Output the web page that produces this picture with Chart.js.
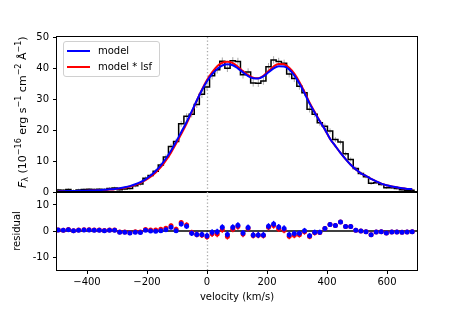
<!DOCTYPE html>
<html>
<head>
<meta charset="utf-8">
<script src="https://cdn.jsdelivr.net/npm/chart.js@4.4.0/dist/chart.umd.min.js"></script>
<style>
body{margin:0;background:#fff;font-family:"DejaVu Sans",sans-serif;}
#wrap{position:relative;width:463px;height:309px;overflow:hidden;background:#fff;}
#topChart{position:absolute;left:0;top:0;}
#resChart{position:absolute;left:0;top:190px;}
#ylab{position:absolute;left:0;top:0;width:150px;height:12px;line-height:12px;text-align:center;transform-origin:0 0;transform:translate(17px,188px) rotate(-90deg);white-space:nowrap;font-size:11px;color:#000;}
#ylab sup{font-size:8px;vertical-align:5px;line-height:0;}
#ylab sub{font-size:8px;vertical-align:-2px;line-height:0;}
#legend{position:absolute;left:63px;top:41px;width:95px;height:34px;border:1px solid #d0d0d0;border-radius:3px;background:rgba(255,255,255,0.8);font-size:10px;color:#000;}
.row{position:absolute;left:0;height:12px;line-height:12px;}
.swatch{position:absolute;left:3px;top:5px;width:23px;height:2px;}
.txt{position:absolute;left:34px;top:0;white-space:nowrap;}
</style>
</head>
<body>
<div id="wrap">
  <canvas id="topChart" width="463" height="200"></canvas>
  <canvas id="resChart" width="463" height="119"></canvas>
  <div id="ylab"><i>F</i><sub>λ</sub> (10<sup>−16</sup> erg s<sup>−1</sup> cm<sup>−2</sup> Å<sup>−1</sup>)</div>
  <div id="legend">
    <div class="row" style="top:3px;width:95px"><div class="swatch" style="background:#0000ff"></div><div class="txt">model</div></div>
    <div class="row" style="top:19px;width:95px"><div class="swatch" style="background:#ff0000"></div><div class="txt">model * lsf</div></div>
  </div>
</div>
<script>
// bin centres (km/s)
const velocity = [-496, -479, -462, -445, -428, -410, -393, -376, -359, -342,
    -325, -308, -291, -274, -257, -239, -222, -205, -188, -171,
    -154, -137, -120, -103, -86, -68, -51, -34, -17, 0,
    17, 34, 51, 68, 86, 103, 120, 137, 154, 171,
    188, 205, 222, 239, 257, 274, 291, 308, 325, 342,
    359, 376, 393, 410, 428, 445, 462, 479, 496, 513,
    530, 547, 564, 581, 598, 616, 633, 650, 667, 684];

// observed flux
const fluxData = [0.65, 0.57, 0.8, 0.43, 0.67, 0.8, 0.85, 0.8, 0.9, 0.8,
    1.15, 1.3, 0.7, 1.0, 1.1, 2.0, 2.6, 4.4, 5.3, 6.7,
    8.7, 11.3, 14.7, 16.3, 22.0, 24.4, 25.1, 28.2, 31.5, 33.9,
    37.5, 39.4, 42.2, 39.9, 42.3, 42.1, 37.8, 38.7, 35.2, 35.1,
    35.8, 40.4, 42.6, 42.1, 41.5, 38.1, 36.6, 34.1, 32.0, 26.7,
    25.1, 22.3, 21.2, 19.7, 16.9, 16.1, 12.3, 10.5, 7.6, 6.0,
    4.9, 2.8, 3.0, 2.4, 1.4, 1.4, 1.1, 0.7, 0.6, 0.6];

const fluxErr = [0.4, 0.4, 0.4, 0.4, 0.4, 0.4, 0.4, 0.4, 0.4, 0.4,
    0.4, 0.4, 0.45, 0.45, 0.5, 0.5, 0.55, 0.6, 0.65, 0.7,
    0.75, 0.8, 0.85, 0.9, 0.95, 1.0, 1.05, 1.1, 1.15, 1.2,
    1.2, 1.2, 1.2, 1.2, 1.2, 1.2, 1.2, 1.2, 1.2, 1.2,
    1.2, 1.2, 1.2, 1.2, 1.2, 1.15, 1.15, 1.1, 1.1, 1.05,
    1.0, 0.95, 0.9, 0.85, 0.8, 0.75, 0.7, 0.65, 0.6, 0.55,
    0.5, 0.5, 0.45, 0.45, 0.4, 0.4, 0.4, 0.4, 0.4, 0.4];

const model = [0.25, 0.27, 0.3, 0.33, 0.37, 0.4, 0.45, 0.5, 0.6, 0.7,
    0.85, 1.0, 1.2, 1.5, 1.9, 2.5, 3.2, 4.1, 5.3, 6.8,
    8.6, 10.8, 13.3, 16.2, 19.3, 22.6, 26.0, 29.5, 32.8, 35.7,
    38.0, 39.7, 40.8, 41.2, 40.9, 39.9, 38.6, 37.4, 36.7, 36.6,
    37.3, 38.6, 39.9, 40.6, 40.5, 39.5, 37.6, 35.0, 31.9, 28.5,
    25.6, 22.8, 20.2, 17.2, 14.8, 12.6, 10.6, 8.8, 7.3, 6.0,
    5.2, 4.2, 3.4, 2.7, 2.2, 1.8, 1.5, 1.2, 1.0, 0.9];

const modelLsf = [0.22, 0.24, 0.27, 0.3, 0.33, 0.36, 0.41, 0.46, 0.55, 0.64,
    0.78, 0.92, 1.1, 1.38, 1.75, 2.3, 2.95, 3.8, 4.9, 6.3,
    8.0, 10.2, 12.7, 15.6, 18.7, 22.1, 25.7, 29.5, 33.0, 36.1,
    38.6, 40.6, 41.7, 42.0, 41.6, 40.4, 39.0, 37.7, 36.9, 36.7,
    37.5, 39.0, 40.5, 41.3, 41.2, 40.1, 38.2, 35.5, 32.3, 28.8,
    25.8, 22.9, 20.2, 17.2, 14.8, 12.6, 10.6, 8.8, 7.3, 6.0,
    5.2, 4.2, 3.4, 2.7, 2.2, 1.8, 1.5, 1.2, 1.0, 0.9];

const fluxTicks = [0, 10, 20, 30, 40, 50];
const residTicks = [-10, 0, 10];
const velTicks = [-400, -200, 0, 200, 400, 600];

const residModel = fluxData.map((f, i) => f - model[i]);
const residLsf = fluxData.map((f, i) => f - modelLsf[i]);

function pts(ys) {
    return velocity.map((v, i) => ({x: v, y: ys[i]}));
}

const FONT = {family: 'DejaVu Sans', size: 10};

// cadre matplotlib
const frame = {
    id: 'frame',
    afterDraw(chart) {
        const {ctx, chartArea: a} = chart;
        ctx.save();
        ctx.strokeStyle = '#000';
        ctx.lineWidth = 1;
        ctx.strokeRect(Math.round(a.left) - 0.5, Math.round(a.top) - 0.5,
            Math.round(a.right - a.left) + 1, Math.round(a.bottom - a.top) + 1);
        ctx.restore();
    }
};

// lignes de reference (v=0 pointillee, residu=0)
const refLines = {
    id: 'refLines',
    beforeDatasetsDraw(chart, args, opts) {
        const {ctx, chartArea: a, scales} = chart;
        ctx.save();
        ctx.beginPath();
        ctx.rect(a.left, a.top, a.right - a.left, a.bottom - a.top);
        ctx.clip();
        const x0 = Math.round(scales.x.getPixelForValue(0)) + 0.5;
        ctx.strokeStyle = '#a8a8a8';
        ctx.lineWidth = 1.3;
        ctx.setLineDash([1.3, 2.2]);
        ctx.beginPath();
        ctx.moveTo(x0, a.top);
        ctx.lineTo(x0, a.bottom);
        ctx.stroke();
        if (opts.zero) {
            ctx.setLineDash([]);
            ctx.strokeStyle = '#000';
            ctx.lineWidth = 1.5;
            const y0 = scales.y.getPixelForValue(0);
            ctx.beginPath();
            ctx.moveTo(a.left, y0);
            ctx.lineTo(a.right, y0);
            ctx.stroke();
        }
        ctx.restore();
    }
};

// barres d'erreur
const errBars = {
    id: 'errBars',
    beforeDatasetDraw(chart, args) {
        const ds = chart.data.datasets[args.index];
        if (!ds.errs) return;
        const {ctx, chartArea: a, scales} = chart;
        ctx.save();
        ctx.beginPath();
        ctx.rect(a.left, a.top, a.right - a.left, a.bottom - a.top);
        ctx.clip();
        ctx.strokeStyle = ds.errs.color;
        ctx.lineWidth = ds.errs.width;
        ds.errs.y.forEach((y, i) => {
            const px = scales.x.getPixelForValue(velocity[i]);
            ctx.beginPath();
            ctx.moveTo(px, scales.y.getPixelForValue(y - fluxErr[i]));
            ctx.lineTo(px, scales.y.getPixelForValue(y + fluxErr[i]));
            ctx.stroke();
        });
        ctx.restore();
    }
};

function yAxis(min, max, ticks, extra) {
    return Object.assign({
        min: min, max: max,
        afterBuildTicks: s => { s.ticks = ticks.map(v => ({value: v})); },
        afterFit: s => { s.width = 57; s.paddingTop = 0; s.paddingBottom = 0; },
        grid: {drawOnChartArea: false, drawTicks: true, tickLength: 4, tickColor: '#000'},
        border: {display: false},
        ticks: {color: '#000', font: FONT, padding: 4}
    }, extra || {});
}

// panneau du haut : spectre
const histPts = pts(fluxData);
histPts.unshift({x: velocity[0] - 8.5, y: fluxData[0]});
histPts.push({x: velocity[velocity.length - 1] + 8.5, y: fluxData[fluxData.length - 1]});

new Chart(document.getElementById('topChart'), {
    type: 'line',
    data: {
        datasets: [
            {label: 'model', data: pts(model), borderColor: '#0000ff', borderWidth: 2,
             pointRadius: 0, cubicInterpolationMode: 'monotone', order: 0},
            {label: 'model * lsf', data: pts(modelLsf), borderColor: '#ff0000', borderWidth: 2,
             pointRadius: 0, cubicInterpolationMode: 'monotone', order: 1},
            {label: 'data', data: histPts, borderColor: '#000', borderWidth: 1.5,
             pointRadius: 0, stepped: 'middle', order: 2,
             errs: {y: fluxData, color: '#a8a8a8', width: 1}}
        ]
    },
    options: {
        responsive: false,
        animation: false,
        layout: {autoPadding: false, padding: {top: 37, right: 46, bottom: 8, left: 0}},
        plugins: {legend: {display: false}, tooltip: {enabled: false}, refLines: {zero: false}},
        scales: {
            x: {type: 'linear', min: -500, max: 700, display: false},
            y: yAxis(0, 50, fluxTicks)
        }
    },
    plugins: [refLines, errBars, frame]
});

// panneau du bas : residus
new Chart(document.getElementById('resChart'), {
    type: 'scatter',
    data: {
        datasets: [
            {label: 'model', data: pts(residModel), backgroundColor: '#0000ff', borderColor: '#0000ff',
             pointRadius: 2.5, pointBorderWidth: 0, order: 0,
             errs: {y: residModel, color: '#0000ff', width: 1.3}},
            {label: 'model * lsf', data: pts(residLsf), backgroundColor: '#ff0000', borderColor: '#ff0000',
             pointRadius: 2.5, pointBorderWidth: 0, order: 1,
             errs: {y: residLsf, color: '#ff0000', width: 1.3}}
        ]
    },
    options: {
        responsive: false,
        animation: false,
        layout: {autoPadding: false, padding: {top: 2, right: 46, bottom: 0, left: 0}},
        plugins: {legend: {display: false}, tooltip: {enabled: false}, refLines: {zero: true}},
        scales: {
            x: {
                type: 'linear', min: -500, max: 700,
                afterBuildTicks: s => { s.ticks = velTicks.map(v => ({value: v})); },
                afterFit: s => { s.height = 39; s.paddingLeft = 0; s.paddingRight = 0; },
                grid: {drawOnChartArea: false, drawTicks: true, tickLength: 4, tickColor: '#000'},
                border: {display: false},
                ticks: {color: '#000', font: FONT, padding: 2, maxRotation: 0,
                        callback: v => String(v).replace('-', '\u2212')},
                title: {display: true, text: 'velocity (km/s)', color: '#000', font: FONT,
                        padding: {top: 4, bottom: 6}}
            },
            y: yAxis(-15, 15, residTicks, {
                title: {display: true, text: 'residual', color: '#000', font: FONT,
                        padding: {top: 11, bottom: 0}}
            })
        }
    },
    plugins: [refLines, errBars, frame]
});
</script>
</body>
</html>
